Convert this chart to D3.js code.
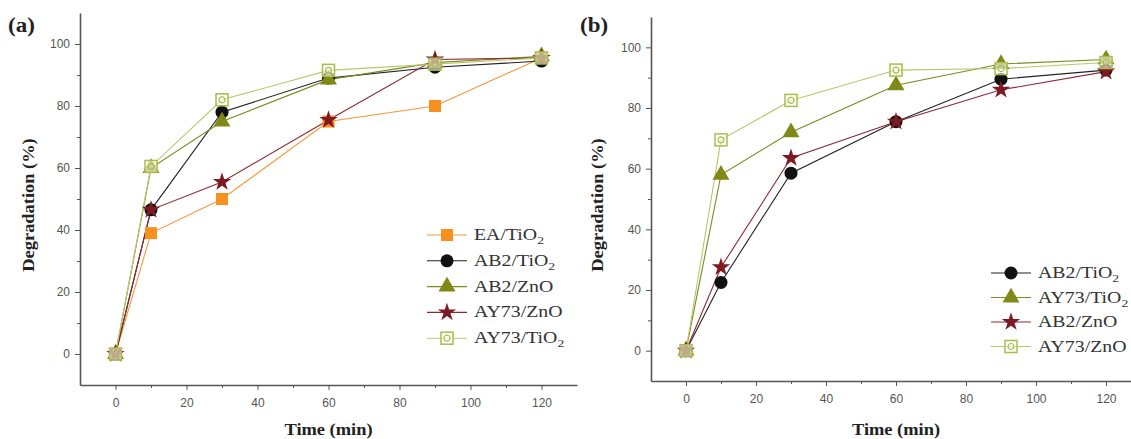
<!DOCTYPE html>
<html>
<head>
<meta charset="utf-8">
<script src="https://cdn.jsdelivr.net/npm/d3@7"></script>
<style>
  body { margin: 0; background: #fff; }
  svg { display: block; }
  .tick text { font-family: "Liberation Sans", Arial, sans-serif; font-size: 12px; fill: #555; }
  .axis path, .axis line { stroke: #555; }
  .ttl { font-family: "Liberation Serif", "Times New Roman", serif; font-weight: bold; fill: #222; }
  .leg { font-family: "Liberation Serif", "Times New Roman", serif; font-size: 16px; fill: #333; }
</style>
</head>
<body>
<svg class="chart" width="1131" height="439"></svg>
<script>
// time points (min)
var times = [0, 10, 30, 60, 90, 120];
var xTicks = [0, 20, 40, 60, 80, 100, 120];
var yTicks = [0, 20, 40, 60, 80, 100];

// panel (a)
var a_names = ["EA/TiO", "AB2/TiO", "AB2/ZnO", "AY73/ZnO", "AY73/TiO"];
var a_subs = ["2", "2", "", "", "2"];
var a_EA_TiO2 = [0, 39, 50, 75, 80, 95.5];
var a_AB2_TiO2 = [0, 46.5, 78, 89, 92.5, 94.5];
var a_AB2_ZnO = [0, 60, 75, 88.5, 94, 96];
var a_AY73_ZnO = [0, 46.5, 55.5, 75.5, 95, 95.5];
var a_AY73_TiO2 = [0, 60.5, 82, 91.5, 93.5, 95.5];

// panel (b)
var b_names = ["AB2/TiO", "AY73/TiO", "AB2/ZnO", "AY73/ZnO"];
var b_subs = ["2", "2", "", ""];
var b_AB2_TiO2 = [0, 22.5, 58.5, 75.5, 89.5, 92.5];
var b_AY73_TiO2 = [0, 58, 72, 87.5, 94.5, 96];
var b_AB2_ZnO = [0, 27.5, 63.5, 75.5, 86, 92];
var b_AY73_ZnO = [0, 69.5, 82.5, 92.5, 93, 95];

var styles = {
  orangeSq: {line: "#f39a3a", fill: "#f7901e", stroke: "#f7901e", shape: "square"},
  blackCirc: {line: "#222", fill: "#111", stroke: "#111", shape: "circle"},
  oliveTri: {line: "#7d8a1c", fill: "#7f8a16", stroke: "#7f8a16", shape: "triangle"},
  redStar: {line: "#8a2a34", fill: "#7d1a22", stroke: "#7d1a22", shape: "star"},
  greenOpen: {line: "#b9c96a", fill: "none", stroke: "#a9bd4a", shape: "opensq"}
};

var svg = d3.select(".chart");

function drawMarker(g, shape, st) {
  if (shape == "square") {
    g.append("rect").attr("x", -6).attr("y", -6).attr("width", 12).attr("height", 12)
      .attr("fill", st.fill);
  } else if (shape == "circle") {
    g.append("circle").attr("r", 6.5).attr("fill", st.fill);
  } else if (shape == "triangle") {
    g.append("path").attr("d", d3.symbol(d3.symbolTriangle, 125)()).attr("fill", st.fill);
  } else if (shape == "star") {
    g.append("path").attr("d", d3.symbol(d3.symbolStar, 105)()).attr("fill", st.fill);
  } else {
    g.append("rect").attr("x", -6).attr("y", -6).attr("width", 12).attr("height", 12)
      .attr("fill", "#fff").attr("fill-opacity", 0.6).attr("stroke", st.stroke).attr("stroke-width", 1.5);
    g.append("circle").attr("r", 3).attr("fill", "none").attr("stroke", st.stroke).attr("stroke-width", 1.2);
  }
}

function drawPanel(p) {
  var x = d3.scaleLinear().domain([-10, 130]).range([p.left, p.right]);
  var y = d3.scaleLinear().domain([-10, 110]).range([p.bottom, p.top]);
  var g = svg.append("g");

  // minor ticks
  g.append("g").attr("class", "axis")
    .attr("transform", "translate(0," + p.bottom + ")")
    .call(d3.axisBottom(x).tickValues([10, 30, 50, 70, 90, 110]).tickSize(3).tickFormat(""))
    .select(".domain").remove();
  g.append("g").attr("class", "axis")
    .attr("transform", "translate(" + p.left + ",0)")
    .call(d3.axisLeft(y).tickValues([10, 30, 50, 70, 90]).tickSize(3).tickFormat(""))
    .select(".domain").remove();

  var xa = g.append("g").attr("class", "axis")
    .attr("transform", "translate(0," + p.bottom + ")")
    .call(d3.axisBottom(x).tickValues(xTicks).tickSize(5).tickSizeOuter(0).tickPadding(8));
  xa.select(".domain").attr("stroke-width", 1.6);
  var ya = g.append("g").attr("class", "axis")
    .attr("transform", "translate(" + p.left + ",0)")
    .call(d3.axisLeft(y).tickValues(yTicks).tickSize(5).tickSizeOuter(0).tickPadding(5));
  ya.select(".domain").attr("stroke-width", 1.6);

  var line = d3.line().x(function(d, i) { return x(times[i]); }).y(function(d) { return y(d); });

  p.series.forEach(function(s) {
    var st = styles[s.style];
    g.append("path").datum(s.values).attr("d", line)
      .attr("fill", "none").attr("stroke", st.line).attr("stroke-width", 1.1);
  });
  p.series.forEach(function(s) {
    var st = styles[s.style];
    s.values.forEach(function(v, i) {
      var m = g.append("g").attr("transform", "translate(" + x(times[i]) + "," + y(v) + ")");
      drawMarker(m, st.shape, st);
    });
  });

  // legend
  p.series.forEach(function(s, i) {
    var st = styles[s.style];
    var ly = p.legY + i * p.legStep;
    g.append("line").attr("x1", p.legX - 20).attr("x2", p.legX + 20)
      .attr("y1", ly).attr("y2", ly).attr("stroke", st.line).attr("stroke-width", 1.1);
    var m = g.append("g").attr("transform", "translate(" + p.legX + "," + ly + ")");
    drawMarker(m, st.shape, st);
    var t = g.append("text").attr("class", "leg")
      .attr("transform", "translate(" + (p.legX + 27) + "," + (ly + 5) + ") scale(1.24,1)")
      .text(s.name);
    if (s.sub) t.append("tspan").attr("font-size", 11).attr("dy", 4).text(s.sub);
  });

  g.append("text").attr("class", "ttl").attr("font-size", 16)
    .attr("transform", "translate(" + p.ylabX + "," + ((p.top + p.bottom) / 2 + 6) + ") rotate(-90) scale(1.15,1)")
    .attr("text-anchor", "middle").text("Degradation (%)");
  g.append("text").attr("class", "ttl").attr("font-size", 16)
    .attr("transform", "translate(" + x(60) + ",435) scale(1.15,1)")
    .attr("text-anchor", "middle").text("Time (min)");
  g.append("text").attr("class", "ttl").attr("font-size", 20)
    .attr("transform", "translate(" + p.labX + ",32) scale(1.15,1)").text(p.label);
}

drawPanel({
  label: "(a)", labX: 8, left: 80, right: 577, top: 13, bottom: 385, ylabX: 34,
  legX: 447, legY: 235, legStep: 25.8,
  series: [
    {name: a_names[0], sub: a_subs[0], values: a_EA_TiO2, style: "orangeSq"},
    {name: a_names[1], sub: a_subs[1], values: a_AB2_TiO2, style: "blackCirc"},
    {name: a_names[2], sub: a_subs[2], values: a_AB2_ZnO, style: "oliveTri"},
    {name: a_names[3], sub: a_subs[3], values: a_AY73_ZnO, style: "redStar"},
    {name: a_names[4], sub: a_subs[4], values: a_AY73_TiO2, style: "greenOpen"}
  ]
});

drawPanel({
  label: "(b)", labX: 580, left: 651, right: 1141, top: 17, bottom: 381, ylabX: 603,
  legX: 1011, legY: 273, legStep: 24.5,
  series: [
    {name: b_names[0], sub: b_subs[0], values: b_AB2_TiO2, style: "blackCirc"},
    {name: b_names[1], sub: b_subs[1], values: b_AY73_TiO2, style: "oliveTri"},
    {name: b_names[2], sub: b_subs[2], values: b_AB2_ZnO, style: "redStar"},
    {name: b_names[3], sub: b_subs[3], values: b_AY73_ZnO, style: "greenOpen"}
  ]
});
</script>
</body>
</html>
